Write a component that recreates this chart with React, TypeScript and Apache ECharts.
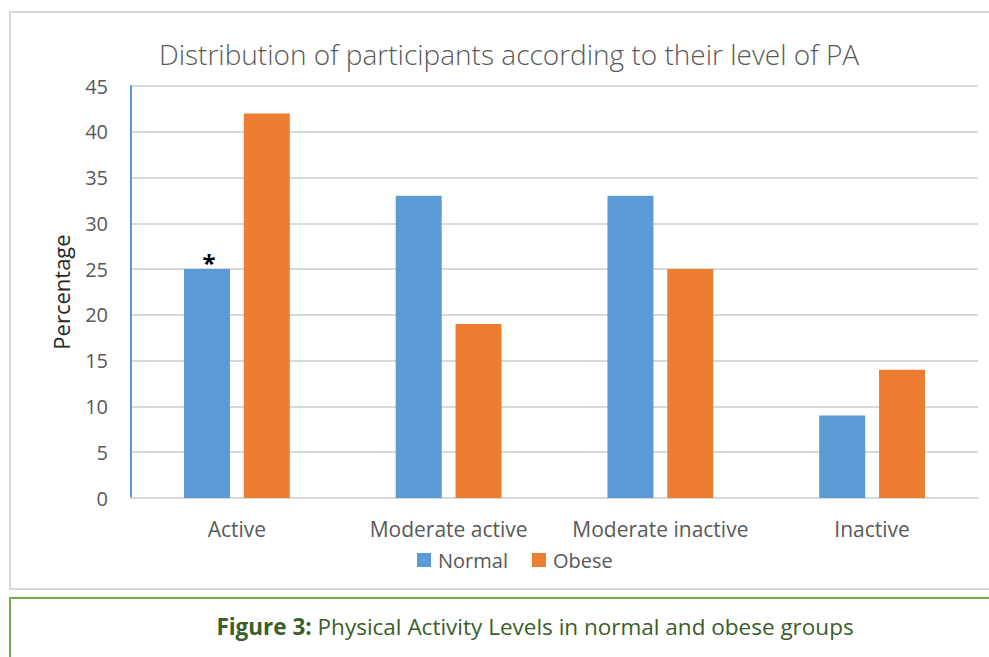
import React, { useEffect, useRef } from "react";
import * as echarts from "echarts";

const categories = ["Active", "Moderate active", "Moderate inactive", "Inactive"];
const normalValues = [25, 33, 33, 9];
const obeseValues = [42, 19, 25, 14];
const normalMarks = ["*", "", "", ""];
const seriesNames = ["Normal", "Obese"];
const chartTitle = "Distribution of participants according to their level of PA";
const yAxisName = "Percentage";
const captionBold = "Figure 3:";
const captionText = " Physical Activity Levels in normal and obese groups";

const FONT = "'Open Sans', Lato, sans-serif";

export default function App() {
  const ref = useRef<HTMLDivElement>(null);
  useEffect(() => {
    if (!ref.current) return;
    const chart = echarts.init(ref.current, null, { renderer: "svg" });
    chart.setOption({
      animation: false,
      textStyle: { fontFamily: FONT },
      title: {
        text: chartTitle,
        left: 504,
        top: 35,
        textAlign: "center",
        textStyle: { fontFamily: FONT, fontSize: 28, fontWeight: 300, color: "#595959" },
      },
      legend: {
        data: seriesNames,
        left: 412,
        top: 545,
        itemWidth: 14,
        itemHeight: 14,
        itemGap: 24,
        icon: "rect",
        textStyle: { fontFamily: FONT, fontSize: 20, color: "#595959", padding: [0, 0, 0, 2] },
      },
      grid: { left: 131, right: 11, top: 86, bottom: 159, containLabel: false },
      xAxis: {
        type: "category",
        data: categories,
        axisLine: { lineStyle: { color: "#d9d9d9", width: 2 } },
        axisTick: { show: false },
        axisLabel: { fontFamily: FONT, fontSize: 21, color: "#595959", margin: 20, interval: 0 },
      },
      yAxis: {
        type: "value",
        min: 0,
        max: 45,
        interval: 5,
        name: yAxisName,
        nameLocation: "middle",
        nameGap: 59,
        nameTextStyle: { fontFamily: FONT, fontSize: 22, color: "#262626" },
        axisLine: { show: true, lineStyle: { color: "#5b9bd5", width: 2 } },
        axisTick: { show: false },
        axisLabel: { fontFamily: FONT, fontSize: 20, color: "#595959", margin: 23 },
        splitLine: { lineStyle: { color: "#d9d9d9", width: 2 } },
      },
      series: [
        {
          name: seriesNames[0],
          type: "bar",
          barGap: "30%",
          barCategoryGap: "50%",
          itemStyle: { color: "#5b9bd5" },
          data: normalValues.map((v, i) => ({
            value: v,
            label: {
              show: normalMarks[i] !== "",
              position: "top",
              formatter: normalMarks[i],
              fontFamily: FONT,
              fontSize: 24,
              fontWeight: "bold",
              color: "#000",
              distance: 0,
              offset: [2, 5],
            },
          })),
        },
        {
          name: seriesNames[1],
          type: "bar",
          itemStyle: { color: "#ed7d31" },
          data: obeseValues,
        },
      ],
      graphic: [
        {
          type: "rect",
          shape: { x: 10, y: 12, width: 990, height: 577 },
          style: { fill: "none", stroke: "#d9d9d9", lineWidth: 2 },
          z: -10,
        },
        {
          type: "rect",
          shape: { x: 10, y: 598, width: 990, height: 80 },
          style: { fill: "none", stroke: "#70ad47", lineWidth: 2 },
          z: -10,
        },
        {
          type: "text",
          x: 535,
          y: 626,
          style: {
            text: `{b|${captionBold}}{n|${captionText}}`,
            align: "center",
            verticalAlign: "middle",
            rich: {
              b: { fontFamily: FONT, fontSize: 22.5, fontWeight: "bold", fill: "#3b5e2a" },
              n: { fontFamily: FONT, fontSize: 22.5, fill: "#3b5e2a" },
            },
          },
        },
      ],
    });
    return () => chart.dispose();
  }, []);
  return (
    <div
      ref={ref}
      style={{ position: "absolute", left: 0, top: 0, width: 989, height: 657, background: "#fff" }}
    />
  );
}
